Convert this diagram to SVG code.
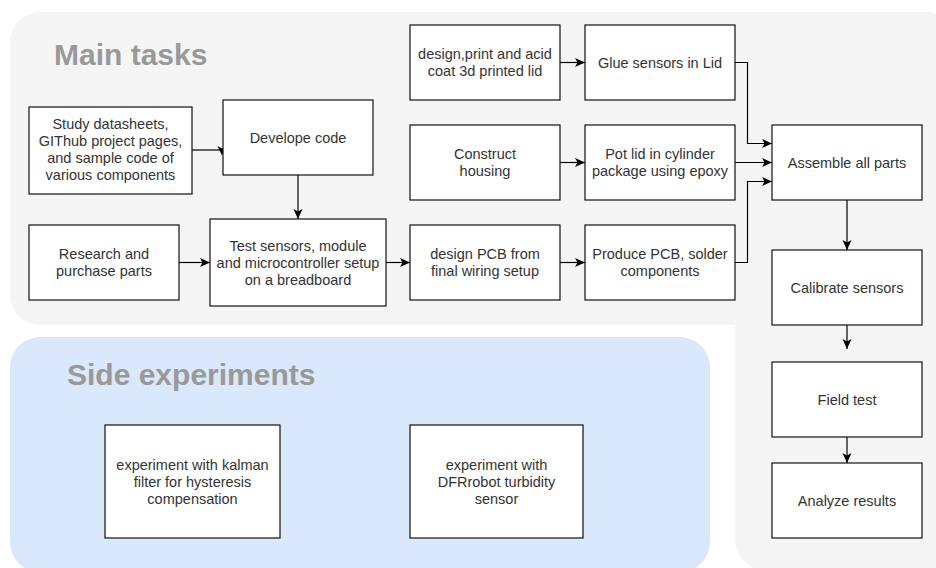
<svg xmlns="http://www.w3.org/2000/svg" width="936" height="568" viewBox="0 0 936 568">
<defs>
<marker id="arr" markerUnits="userSpaceOnUse" markerWidth="11" markerHeight="10" refX="10" refY="5" orient="auto" viewBox="0 0 11 10">
<path d="M0,0.5 L10,5 L0,9.5 L2.5,5 z" fill="#000"/>
</marker>
<style>
.box{fill:#fff;stroke:#111;stroke-width:1.2}
.t{font-family:"Liberation Sans",Arial,Helvetica,sans-serif;font-size:14.5px;fill:#333;text-anchor:middle}
.title{font-family:"Liberation Sans",Arial,Helvetica,sans-serif;font-size:30px;font-weight:bold;fill:#999}
.c{fill:none;stroke:#000;stroke-width:1.2;marker-end:url(#arr)}
</style>
</defs>
<g id="background">
<rect x="10" y="12" width="945" height="313" rx="30" fill="#f5f5f5"/>
<rect x="735" y="12" width="220" height="558" rx="30" fill="#f5f5f5"/>
<rect x="10" y="337" width="700" height="235" rx="30" fill="#dae8fc"/>
<text class="title" x="54" y="65">Main tasks</text>
<text class="title" x="67" y="385">Side experiments</text>
</g>
<g id="connectors">
<polyline class="c" points="179,262.5 210,262.5"/>
<polyline class="c" points="298,175 298,219"/>
<line x1="192" y1="150" x2="222" y2="150" stroke="#000" stroke-width="1.2"/>
<path d="M217.5,146 L222,148.5 L226.5,146 L222,155.5 z" fill="#000"/>
<polyline class="c" points="386,262.5 410,262.5"/>
<polyline class="c" points="560,262.5 585,262.5"/>
<polyline class="c" points="560,62.5 585,62.5"/>
<polyline class="c" points="560,162.5 585,162.5"/>
<polyline class="c" points="735,62.5 747.5,62.5 747.5,143.5 772,143.5"/>
<polyline class="c" points="735,162.5 772,162.5"/>
<polyline class="c" points="735,262.5 747.5,262.5 747.5,181.5 772,181.5"/>
<polyline class="c" points="847,200 847,250"/>
<polyline class="c" points="847,325 847,349"/>
<polyline class="c" points="847,437 847,463"/>
</g>
<g id="study">
<rect class="box" x="29" y="107" width="163" height="87"/>
<text class="t" x="110.5" y="129">Study datasheets,</text>
<text class="t" x="110.5" y="146">GIThub project pages,</text>
<text class="t" x="110.5" y="163">and sample code of</text>
<text class="t" x="110.5" y="180">various components</text>
</g>
<g id="develope">
<rect class="box" x="223" y="100" width="150" height="75"/>
<text class="t" x="298" y="142.5">Develope code</text>
</g>
<g id="research">
<rect class="box" x="29" y="225" width="150" height="75"/>
<text class="t" x="104" y="259">Research and</text>
<text class="t" x="104" y="276">purchase parts</text>
</g>
<g id="test">
<rect class="box" x="210" y="219" width="176" height="87"/>
<text class="t" x="298" y="250.5">Test sensors, module</text>
<text class="t" x="298" y="267.5">and microcontroller setup</text>
<text class="t" x="298" y="284.5">on a breadboard</text>
</g>
<g id="designlid">
<rect class="box" x="410" y="25" width="150" height="75"/>
<text class="t" x="485" y="59">design,print and acid</text>
<text class="t" x="485" y="76">coat 3d printed lid</text>
</g>
<g id="glue">
<rect class="box" x="585" y="25" width="150" height="75"/>
<text class="t" x="660" y="67.5">Glue sensors in Lid</text>
</g>
<g id="construct">
<rect class="box" x="410" y="125" width="150" height="75"/>
<text class="t" x="485" y="159">Construct</text>
<text class="t" x="485" y="176">housing</text>
</g>
<g id="pot">
<rect class="box" x="585" y="125" width="150" height="75"/>
<text class="t" x="660" y="159">Pot lid in cylinder</text>
<text class="t" x="660" y="176">package using epoxy</text>
</g>
<g id="designpcb">
<rect class="box" x="410" y="225" width="150" height="75"/>
<text class="t" x="485" y="259">design PCB from</text>
<text class="t" x="485" y="276">final wiring setup</text>
</g>
<g id="producepcb">
<rect class="box" x="585" y="225" width="150" height="75"/>
<text class="t" x="660" y="259">Produce PCB, solder</text>
<text class="t" x="660" y="276">components</text>
</g>
<g id="assemble">
<rect class="box" x="772" y="125" width="150" height="75"/>
<text class="t" x="847" y="167.5">Assemble all parts</text>
</g>
<g id="calibrate">
<rect class="box" x="772" y="250" width="150" height="75"/>
<text class="t" x="847" y="292.5">Calibrate sensors</text>
</g>
<g id="fieldtest">
<rect class="box" x="772" y="362" width="150" height="75"/>
<text class="t" x="847" y="404.5">Field test</text>
</g>
<g id="analyze">
<rect class="box" x="772" y="463" width="150" height="75"/>
<text class="t" x="847" y="505.5">Analyze results</text>
</g>
<g id="kalman">
<rect class="box" x="105" y="425" width="175" height="113"/>
<text class="t" x="192.5" y="469.5">experiment with kalman</text>
<text class="t" x="192.5" y="486.5">filter for hysteresis</text>
<text class="t" x="192.5" y="503.5">compensation</text>
</g>
<g id="turbidity">
<rect class="box" x="410" y="425" width="173" height="113"/>
<text class="t" x="496.5" y="469.5">experiment with</text>
<text class="t" x="496.5" y="486.5">DFRrobot turbidity</text>
<text class="t" x="496.5" y="503.5">sensor</text>
</g>
</svg>
